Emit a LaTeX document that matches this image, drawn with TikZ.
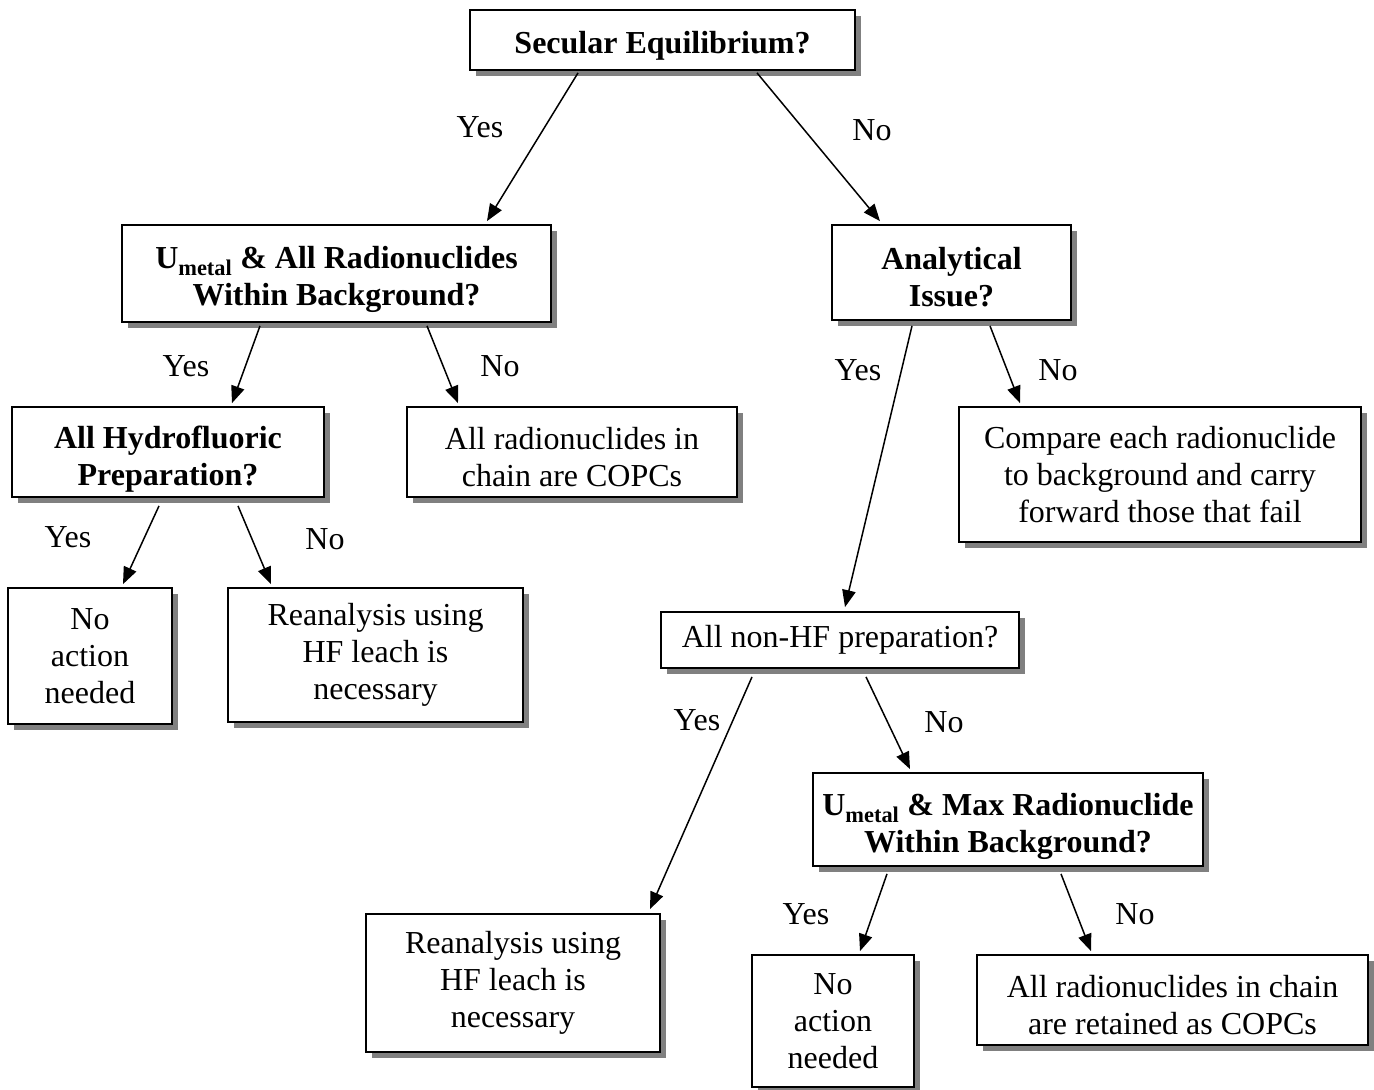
\documentclass[tikz,border=0pt]{standalone}
\usepackage{fontspec}
\setmainfont{Liberation Serif}
\usetikzlibrary{shadows,arrows.meta,calc}
\newcommand{\lowr}[1]{\rule{0pt}{#1}}
\tikzset{
  box/.style={draw=black, line width=1.8pt, fill=white, align=center, inner sep=0pt,
    font=\fontsize{32}{37}\selectfont,
    drop shadow={fill=black!50, opacity=1, shadow xshift=6pt, shadow yshift=-6pt}},
  qbox/.style={box, font=\fontsize{32}{37}\selectfont\bfseries},
  conn/.style={line width=1.5pt, -{Triangle[length=17pt,width=13.5pt]}},
  lbl/.style={font=\fontsize{32}{37}\selectfont, inner sep=0pt}
}
\begin{document}
\begin{tikzpicture}[x=1pt,y=-1pt]
\useasboundingbox[fill=white] (0,0) rectangle (1374,1090);
\node[qbox, minimum width=385pt, minimum height=60pt] (n1) at (662.5,40) {\lowr{33pt}Secular Equilibrium?};
\node[qbox, minimum width=429pt, minimum height=97pt] (n2) at (336.5,273.5) {\lowr{34pt}U\textsubscript{metal} \& All Radionuclides\\Within Background?};
\node[qbox, minimum width=239pt, minimum height=95pt] (n3) at (951.5,272.5) {\lowr{32pt}Analytical\\Issue?};
\node[qbox, minimum width=312pt, minimum height=90pt] (n4) at (168,452) {\lowr{36pt}All Hydrofluoric\\Preparation?};
\node[box, minimum width=330pt, minimum height=90pt] (n5) at (572,452) {\lowr{32pt}All radionuclides in\\chain are COPCs};
\node[box, minimum width=402pt, minimum height=135pt] (n6) at (1160,474.5) {Compare each radionuclide\\to background and carry\\forward those that fail};
\node[box, minimum width=164pt, minimum height=136pt] (n7) at (90,656) {No\\action\\needed};
\node[box, minimum width=295pt, minimum height=134pt] (n8) at (375.5,655) {Reanalysis using\\HF leach is\\necessary};
\node[box, minimum width=358pt, minimum height=56pt] (n9) at (840,640) {All non-HF preparation?};
\node[qbox, minimum width=390pt, minimum height=93pt] (n10) at (1008,819.5) {\lowr{36pt}U\textsubscript{metal} \& Max Radionuclide\\Within Background?};
\node[box, minimum width=294pt, minimum height=138pt] (n11) at (513,983) {Reanalysis using\\HF leach is\\necessary};
\node[box, minimum width=162pt, minimum height=132pt] (n12) at (833,1021) {No\\action\\needed};
\node[box, minimum width=391pt, minimum height=90pt] (n13) at (1172.5,1000) {\lowr{32pt}All radionuclides in chain\\are retained as COPCs};

\coordinate (s1) at ($(n1.south)+(-84.5,2)$);   \coordinate (e1) at ($(n2.north)+(150.5,-3)$);
\coordinate (s2) at ($(n1.south)+(94.5,2)$);    \coordinate (e2) at ($(n3.north)+(-71.5,-3)$);
\coordinate (s3) at ($(n2.south)+(-76.5,3)$);   \coordinate (e3) at ($(n4.north)+(64,-3)$);
\coordinate (s4) at ($(n2.south)+(90.5,3)$);    \coordinate (e4) at ($(n5.north)+(-114,-3)$);
\coordinate (s5) at ($(n3.south)+(-39.5,5)$);   \coordinate (e5) at ($(n9.north)+(5,-4)$);
\coordinate (s6) at ($(n3.south)+(38.5,5)$);    \coordinate (e6) at ($(n6.north)+(-140,-3)$);
\coordinate (s7) at ($(n4.south)+(-9,8)$);      \coordinate (e7) at ($(n7.north)+(33,-3)$);
\coordinate (s8) at ($(n4.south)+(70,8)$);      \coordinate (e8) at ($(n8.north)+(-104.5,-3)$);
\coordinate (s9) at ($(n9.south)+(-88,8)$);     \coordinate (e9) at ($(n11.north)+(137,-4)$);
\coordinate (s10) at ($(n9.south)+(26,8)$);     \coordinate (e10) at ($(n10.north)+(-98,-3)$);
\coordinate (s11) at ($(n10.south)+(-121,7)$);  \coordinate (e11) at ($(n12.north)+(27,-3)$);
\coordinate (s12) at ($(n10.south)+(53,7)$);    \coordinate (e12) at ($(n13.north)+(-81.5,-3)$);

\foreach \i in {1,...,12} { \draw[conn] (s\i) -- (e\i); }

\node[lbl] (y1) at (480,127) {Yes};
\node[lbl] (o1) at (872,130) {No};
\node[lbl] (y2) at (186,366) {Yes};
\node[lbl] (o2) at (500,366) {No};
\node[lbl] (y3) at (858,370) {Yes};
\node[lbl] (o3) at (1058,370) {No};
\node[lbl] (y4) at (68,537) {Yes};
\node[lbl] (o4) at (325,539) {No};
\node[lbl] (y5) at (697,720) {Yes};
\node[lbl] (o5) at (944,722) {No};
\node[lbl] (y6) at (806,914) {Yes};
\node[lbl] (o6) at (1135,914) {No};
\end{tikzpicture}
\end{document}
